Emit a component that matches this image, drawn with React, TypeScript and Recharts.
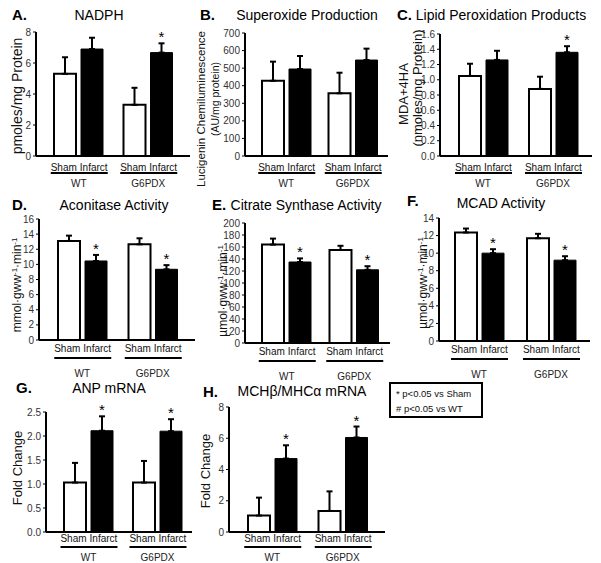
import React from 'react';
import { BarChart, Bar, XAxis, YAxis, ErrorBar, LabelList } from 'recharts';

// ---------- data ----------
const groups = ['WT', 'G6PDX'];
const conditions = ['Sham', 'Infarct'];

// A. NADPH
const nadphSham = [5.3, 3.3];
const nadphShamErr = [1.07, 1.1];
const nadphInfarct = [6.9, 6.67];
const nadphInfarctErr = [0.73, 0.6];
const nadphSig = [false, true];
const nadphTicks = [0, 2, 4, 6, 8];

// B. Superoxide
const superSham = [428, 357];
const superShamErr = [109, 117];
const superInfarct = [495, 546];
const superInfarctErr = [74, 65];
const superSig = [false, false];
const superTicks = [0, 100, 200, 300, 400, 500, 600, 700];

// C. Lipid peroxidation
const lipidSham = [1.05, 0.88];
const lipidShamErr = [0.16, 0.16];
const lipidInfarct = [1.26, 1.36];
const lipidInfarctErr = [0.12, 0.08];
const lipidSig = [false, true];
const lipidTicks = [0, 0.2, 0.4, 0.6, 0.8, 1.0, 1.2, 1.4, 1.6];

// D. Aconitase
const aconSham = [13.1, 12.65];
const aconShamErr = [0.7, 0.8];
const aconInfarct = [10.45, 9.35];
const aconInfarctErr = [0.8, 0.55];
const aconSig = [true, true];
const aconTicks = [0, 2, 4, 6, 8, 10, 12, 14, 16];

// E. Citrate synthase
const csSham = [164, 155];
const csShamErr = [10, 7];
const csInfarct = [135, 122];
const csInfarctErr = [6, 6];
const csSig = [true, true];
const csTicks = [0, 20, 40, 60, 80, 100, 120, 140, 160, 180, 200];

// F. MCAD
const mcadSham = [12.35, 11.7];
const mcadShamErr = [0.45, 0.5];
const mcadInfarct = [10.0, 9.2];
const mcadInfarctErr = [0.45, 0.45];
const mcadSig = [true, true];
const mcadTicks = [0, 2, 4, 6, 8, 10, 12, 14];

// G. ANP mRNA
const anpSham = [1.03, 1.03];
const anpShamErr = [0.41, 0.45];
const anpInfarct = [2.11, 2.1];
const anpInfarctErr = [0.3, 0.25];
const anpSig = [true, true];
const anpTicks = [0, 0.5, 1.0, 1.5, 2.0, 2.5];

// H. MHC mRNA
const mhcSham = [1.05, 1.35];
const mhcShamErr = [1.15, 1.25];
const mhcInfarct = [4.7, 6.05];
const mhcInfarctErr = [0.85, 0.7];
const mhcSig = [true, true];
const mhcTicks = [0, 2, 4, 6, 8];

const legendLines = ['* p<0.05 vs Sham', '# p<0.05 vs WT'];

function rows(sham: number[], shamErr: number[], inf: number[], infErr: number[], sig: boolean[]) {
  return groups.map((g, i) => ({
    group: g,
    sham: sham[i],
    shamErr: [0, shamErr[i]],
    infarct: inf[i],
    infarctErr: [0, infErr[i]],
    starRatio: sig[i] ? (inf[i] + infErr[i]) / inf[i] : null,
  }));
}

const FONT = '"Liberation Sans", Arial, Helvetica, sans-serif';
const f0 = (v: number) => String(v);
const f1 = (v: number) => v.toFixed(1);

const ROW1 = { sub: 15, line: 17, grp: 31 };
const ROW2 = { sub: 12, line: 18, grp: 37 };
const ROW3 = { sub: 10, line: 15, grp: 29 };

const panels = [
  { id: 'A', data: rows(nadphSham, nadphShamErr, nadphInfarct, nadphInfarctErr, nadphSig), ticks: nadphTicks, fmt: f0, plot: { l: 36, r: 190, t: 32, b: 156 }, pad: { left: 8, right: 7 }, xrow: ROW1 },
  { id: 'B', data: rows(superSham, superShamErr, superInfarct, superInfarctErr, superSig), ticks: superTicks, fmt: f0, plot: { l: 245, r: 388, t: 33, b: 156 }, pad: { left: 8, right: 2 }, xrow: ROW1 },
  { id: 'C', data: rows(lipidSham, lipidShamErr, lipidInfarct, lipidInfarctErr, lipidSig), ticks: lipidTicks, fmt: f1, plot: { l: 440, r: 592, t: 34, b: 156 }, pad: { left: 8, right: 4 }, xrow: ROW1 },
  { id: 'D', data: rows(aconSham, aconShamErr, aconInfarct, aconInfarctErr, aconSig), ticks: aconTicks, fmt: f0, plot: { l: 39, r: 195, t: 219, b: 340 }, pad: { left: 8, right: 7 }, xrow: ROW2 },
  { id: 'E', data: rows(csSham, csShamErr, csInfarct, csInfarctErr, csSig), ticks: csTicks, fmt: f0, plot: { l: 245, r: 390, t: 223, b: 343 }, pad: { left: 8, right: 2 }, xrow: ROW2 },
  { id: 'F', data: rows(mcadSham, mcadShamErr, mcadInfarct, mcadInfarctErr, mcadSig), ticks: mcadTicks, fmt: f0, plot: { l: 439, r: 590, t: 218, b: 341 }, pad: { left: 4, right: 3 }, xrow: ROW2 },
  { id: 'G', data: rows(anpSham, anpShamErr, anpInfarct, anpInfarctErr, anpSig), ticks: anpTicks, fmt: f1, plot: { l: 46, r: 192, t: 412, b: 532 }, pad: { left: 8, right: 0 }, xrow: ROW3 },
  { id: 'H', data: rows(mhcSham, mhcShamErr, mhcInfarct, mhcInfarctErr, mhcSig), ticks: mhcTicks, fmt: f0, plot: { l: 229, r: 385, t: 407, b: 532 }, pad: { left: 8, right: 7 }, xrow: ROW3 },
];

const titles = [
  { letter: 'A.', lx: 12, ly: 15, text: 'NADPH', cx: 99, cy: 15 },
  { letter: 'B.', lx: 200, ly: 15, text: 'Superoxide Production', cx: 307, cy: 15 },
  { letter: 'C.', lx: 397, ly: 15, text: 'Lipid Peroxidation Products', cx: 501, cy: 15 },
  { letter: 'D.', lx: 12, ly: 205, text: 'Aconitase Activity', cx: 114, cy: 205 },
  { letter: 'E.', lx: 212, ly: 205, text: 'Citrate Synthase Activity', cx: 306, cy: 205 },
  { letter: 'F.', lx: 407, ly: 201, text: 'MCAD Activity', cx: 501, cy: 203 },
  { letter: 'G.', lx: 16, ly: 388, text: 'ANP mRNA', cx: 109, cy: 388 },
  { letter: 'H.', lx: 203, ly: 392, text: 'MCHβ/MHCα mRNA', cx: 302, cy: 391 },
];

const Sup = ({ children }: any) => (
  <span style={{ fontSize: '0.65em', verticalAlign: '0.55em' }}>{children}</span>
);

const yLabels: any[] = [
  { cx: 17, cy: 96, size: 14, content: 'pmoles/mg Protein' },
  { cx: 202, cy: 109, size: 11.5, content: 'Lucigenin Chemiluminescence' },
  { cx: 215, cy: 99, size: 10.5, content: '(AU/mg protein)' },
  { cx: 403, cy: 94, size: 13, content: 'MDA+4HA' },
  { cx: 417, cy: 88, size: 13, content: '(nmoles/mg Protein)' },
  { cx: 16, cy: 285, size: 12, content: <>mmol·gww<Sup>-1</Sup>·min<Sup>-1</Sup></> },
  { cx: 222, cy: 291, size: 12, content: <>µmol·gww<Sup>-1</Sup>·min<Sup>-1</Sup></> },
  { cx: 422, cy: 283, size: 12, content: <>µmol·gww<Sup>-1</Sup>·min<Sup>-1</Sup></> },
  { cx: 17, cy: 468, size: 13, content: 'Fold Change' },
  { cx: 205, cy: 471, size: 13, content: 'Fold Change' },
];

const BAR = 22;
const GAP = 5;
const YW = 30;
const MT = 12;
const MR = 6;
const XH = 46;

const GroupTick = (props: any) => {
  const { x, y, payload, row } = props;
  const off = 15;
  return (
    <g>
      <text x={x - off} y={y + row.sub} textAnchor="middle" fontSize={10} fill="#111">{conditions[0]}</text>
      <text x={x + off} y={y + row.sub} textAnchor="middle" fontSize={10} fill="#111">{conditions[1]}</text>
      <line x1={x - 28} x2={x + 29} y1={y + row.line} y2={y + row.line} stroke="#000" strokeWidth={2.2} />
      <text x={x} y={y + row.grp} textAnchor="middle" fontSize={10} fill="#222">{payload.value}</text>
    </g>
  );
};

const StarLabel = (props: any) => {
  const { value } = props;
  if (value == null || !isFinite(value)) return null;
  const vb = props.viewBox || {};
  const x = props.x ?? vb.x;
  const y = props.y ?? vb.y;
  const width = props.width ?? vb.width;
  const height = props.height ?? vb.height;
  if (x == null || y == null || width == null || height == null) return null;
  const base = y + height;
  const top = base - height * value;
  return (
    <text x={x + width / 2} y={top - 1} textAnchor="middle" fontSize={15} fill="#000">*</text>
  );
};

function Panel({ p }: any) {
  const { plot, pad, xrow } = p;
  const w = plot.r - plot.l + YW + MR;
  const h = plot.b - plot.t + MT + XH;
  const max = p.ticks[p.ticks.length - 1];
  return (
    <div style={{ position: 'absolute', left: plot.l - YW, top: plot.t - MT }}>
      <BarChart width={w} height={h} data={p.data} margin={{ top: MT, right: MR, left: 0, bottom: 0 }} barGap={GAP}>
        <XAxis
          dataKey="group"
          type="category"
          padding={pad}
          height={XH}
          tickLine={false}
          tickSize={0}
          tickMargin={0}
          interval={0}
          axisLine={{ stroke: '#000', strokeWidth: 2 }}
          tick={(tp: any) => <GroupTick {...tp} row={xrow} />}
        />
        <YAxis
          type="number"
          width={YW}
          domain={[0, max]}
          ticks={p.ticks}
          interval={0}
          tickFormatter={p.fmt}
          tickSize={3}
          tickMargin={2}
          tickLine={{ stroke: '#000', strokeWidth: 1 }}
          axisLine={{ stroke: '#000', strokeWidth: 2 }}
          tick={{ fontSize: 10, fill: '#333' }}
        />
        <Bar dataKey="sham" fill="#fff" stroke="#000" strokeWidth={2} barSize={BAR} isAnimationActive={false}>
          <ErrorBar dataKey="shamErr" direction="y" width={3} stroke="#000" strokeWidth={2} />
        </Bar>
        <Bar dataKey="infarct" fill="#000" stroke="#000" strokeWidth={1} barSize={BAR} isAnimationActive={false}>
          <ErrorBar dataKey="infarctErr" direction="y" width={3} stroke="#000" strokeWidth={2} />
          <LabelList dataKey={(d: any) => d.starRatio} content={StarLabel} />
        </Bar>
      </BarChart>
    </div>
  );
}

export default function App() {
  return (
    <div style={{ position: 'absolute', left: 0, top: 0, width: 601, height: 563, background: '#fff', fontFamily: FONT, color: '#000', overflow: 'hidden' }}>
      {panels.map((p) => (
        <Panel key={p.id} p={p} />
      ))}
      {titles.map((t) => (
        <React.Fragment key={t.letter}>
          <div style={{ position: 'absolute', left: t.lx, top: t.ly, transform: 'translateY(-50%)', fontSize: 15, fontWeight: 'bold', lineHeight: '18px', whiteSpace: 'nowrap' }}>{t.letter}</div>
          <div style={{ position: 'absolute', left: t.cx, top: t.cy, transform: 'translate(-50%,-50%)', fontSize: 14, lineHeight: '18px', whiteSpace: 'nowrap' }}>{t.text}</div>
        </React.Fragment>
      ))}
      {yLabels.map((l, i) => (
        <div key={i} style={{ position: 'absolute', left: l.cx, top: l.cy, transform: 'translate(-50%,-50%) rotate(-90deg)', fontSize: l.size, lineHeight: `${l.size + 2}px`, whiteSpace: 'nowrap', color: '#111' }}>{l.content}</div>
      ))}
      <div style={{ position: 'absolute', left: 389, top: 382, width: 94, height: 36, boxSizing: 'border-box', border: '2px solid #000', padding: '2px 0 0 5px', fontSize: 9.5, lineHeight: '15px', color: '#111' }}>
        {legendLines.map((s) => (
          <div key={s} style={{ whiteSpace: 'nowrap' }}>{s}</div>
        ))}
      </div>
    </div>
  );
}
